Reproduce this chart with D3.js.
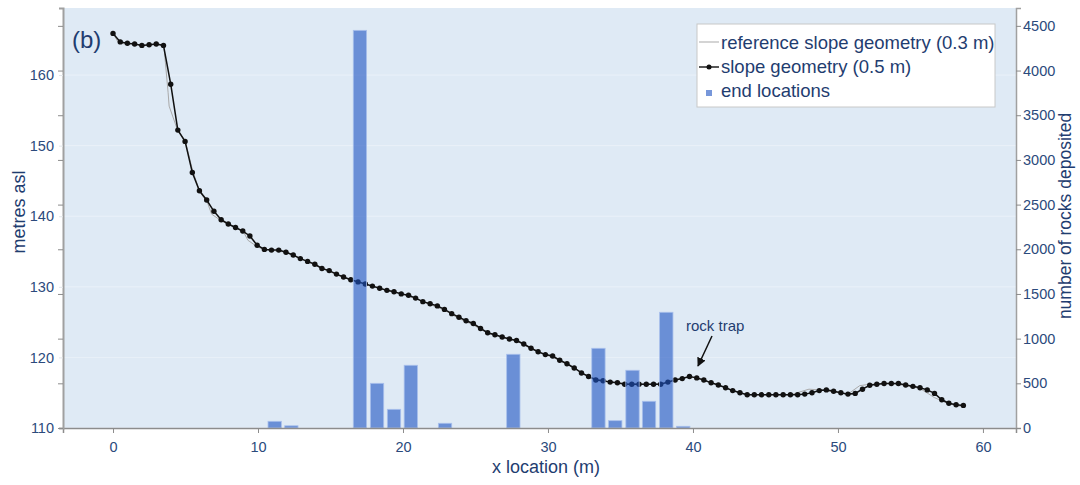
<!DOCTYPE html>
<html>
<head>
<meta charset="utf-8">
<script src="https://cdn.jsdelivr.net/npm/d3@7"></script>
<style>
    body { margin: 0; background: #fff; }
    text { font-family: "Liberation Sans", Arial, sans-serif; }
</style>
</head>
<body>
<div id="chart"></div>
<script>
// slope geometry (0.5 m), x location in m and elevation in metres asl
var slopeX = [0, 0.50, 0.99, 1.49, 1.99, 2.49, 2.98, 3.48, 3.98, 4.47, 4.97, 5.47, 5.96, 6.46, 6.96, 7.46, 7.95, 8.45, 8.95, 9.44,
    9.94, 10.44, 10.93, 11.43, 11.93, 12.43, 12.92, 13.42, 13.92, 14.41, 14.91, 15.41, 15.90, 16.40, 16.90, 17.40, 17.89, 18.39, 18.89, 19.38,
    19.88, 20.38, 20.87, 21.37, 21.87, 22.37, 22.86, 23.36, 23.86, 24.35, 24.85, 25.35, 25.84, 26.34, 26.84, 27.34, 27.83, 28.33, 28.83, 29.32,
    29.82, 30.32, 30.81, 31.31, 31.81, 32.31, 32.80, 33.30, 33.80, 34.29, 34.79, 35.29, 35.78, 36.28, 36.78, 37.28, 37.77, 38.27, 38.77, 39.26,
    39.76, 40.26, 40.75, 41.25, 41.75, 42.25, 42.74, 43.24, 43.74, 44.23, 44.73, 45.23, 45.72, 46.22, 46.72, 47.22, 47.71, 48.21, 48.71, 49.20,
    49.70, 50.20, 50.69, 51.19, 51.69, 52.19, 52.68, 53.18, 53.68, 54.17, 54.67, 55.17, 55.66, 56.16, 56.66, 57.16, 57.65, 58.15, 58.65];
var slopeY = [165.9, 164.7, 164.5, 164.4, 164.2, 164.3, 164.4, 164.2, 158.7, 152.2, 150.6, 146.2, 143.6, 142.3, 140.7, 139.5, 138.9, 138.4, 137.9, 137.2,
    135.9, 135.3, 135.2, 135.2, 134.9, 134.5, 134.0, 133.6, 133.2, 132.6, 132.3, 131.8, 131.4, 131.0, 130.7, 130.4, 130.1, 129.8, 129.5, 129.3,
    129.0, 128.8, 128.4, 127.9, 127.6, 127.3, 126.8, 126.2, 125.7, 125.2, 124.8, 124.1, 123.5, 123.2, 122.9, 122.6, 122.4, 121.9, 121.3, 120.8,
    120.4, 120.2, 119.6, 119.1, 118.5, 117.8, 117.3, 116.8, 116.7, 116.5, 116.4, 116.2, 116.2, 116.2, 116.2, 116.2, 116.2, 116.5, 116.8, 117.0,
    117.3, 117.1, 116.8, 116.4, 116.1, 115.7, 115.3, 115.0, 114.7, 114.7, 114.7, 114.7, 114.7, 114.7, 114.7, 114.7, 114.8, 115.0, 115.3, 115.4,
    115.2, 115.0, 114.8, 114.9, 115.5, 116.05, 116.2, 116.3, 116.3, 116.3, 116.1, 115.9, 115.7, 115.4, 114.9, 114.0, 113.5, 113.3, 113.2];

// reference slope geometry (0.3 m), vertices read where it leaves the 0.5 m line
var refX = [0, 0.4, 1.0, 1.5, 2.0, 2.5, 3.0, 3.5, 3.8, 3.87, 4.4, 5.0, 5.5, 6.0, 6.5, 6.8, 7.5, 8.0, 8.5, 9.0,
    9.3, 10.0, 10.5, 11.93, 13.92, 15.90, 17.89, 19.88, 20.87, 21.87, 22.86, 23.86, 24.85, 25.84, 26.84, 27.83, 28.83, 29.82, 30.81, 31.81,
    32.80, 33.80, 34.79, 36.78, 37.77, 38.77, 39.76, 40.75, 41.75, 42.74, 43.74, 46.72, 48.0, 48.71, 49.70, 50.69, 51.5, 52.19, 53.68, 54.67,
    55.66, 56.66, 57.65, 58.45];
var refY = [165.9, 164.5, 164.4, 164.4, 164.2, 164.2, 164.4, 164.3, 157.5, 155.6, 152.5, 150.5, 146.4, 143.4, 142.0, 140.3, 139.3, 138.8, 138.3, 137.8,
    136.6, 135.6, 135.3, 134.9, 133.1, 131.3, 130.1, 129.0, 128.3, 127.5, 126.7, 125.5, 124.6, 123.4, 122.9, 122.3, 121.3, 120.4, 119.6, 118.5,
    117.3, 116.7, 116.4, 116.2, 116.3, 116.8, 117.3, 116.8, 116.1, 115.3, 114.7, 114.7, 115.5, 115.4, 115.1, 114.8, 116.0, 116.2, 116.3, 116.0,
    115.6, 114.3, 113.4, 113.1];

// end locations: bin centre (m) and number of rocks deposited
var barX = [11.15, 12.3, 17.03, 18.21, 19.38, 20.54, 22.9, 27.61, 33.48, 34.64, 35.83, 36.97, 38.16, 39.33];
var barCount = [75, 25, 4450, 500, 209, 702, 53, 825, 892, 82, 646, 299, 1295, 19];

var xTicks = [0, 10, 20, 30, 40, 50, 60];
var leftTicks = [110, 120, 130, 140, 150, 160];
var rightTicks = [0, 500, 1000, 1500, 2000, 2500, 3000, 3500, 4000, 4500];

const w = 1080;
const h = 485;
const plotL = 63, plotR = 1016, plotT = 8, plotB = 428;
const navy = "#1f3d70";
const tickNavy = "#2b4a7c";
const barFill = "rgb(29,82,193)";

const xScale = d3.scaleLinear()
    .domain([-3.45, 62.28])
    .range([plotL, plotR]);

const yLeft = d3.scaleLinear()
    .domain([110, 169.5])
    .range([plotB, plotT]);

const yRight = d3.scaleLinear()
    .domain([0, 4700])
    .range([plotB, plotT]);

const svg = d3.select("#chart")
    .append("svg")
    .attr("width", w)
    .attr("height", h);

// plot background
svg.append("rect")
    .attr("x", plotL)
    .attr("y", plotT)
    .attr("width", plotR - plotL)
    .attr("height", plotB - plotT)
    .attr("fill", "#dfeaf5");

// faint grid at the elevation ticks
svg.append("g")
    .selectAll("line")
    .data(leftTicks)
    .enter()
    .append("line")
    .attr("x1", plotL)
    .attr("x2", plotR)
    .attr("y1", (d) => yLeft(d))
    .attr("y2", (d) => yLeft(d))
    .attr("stroke", "#eaf1f9")
    .attr("stroke-width", 1);

// reference line under everything else
const line = d3.line()
    .x((d) => xScale(d[0]))
    .y((d) => yLeft(d[1]));

svg.append("path")
    .datum(refX.map((x, i) => [x, refY[i]]))
    .attr("d", line)
    .attr("fill", "none")
    .attr("stroke", "#a9a9a9")
    .attr("stroke-width", 1);

var slope = slopeX.map((x, i) => [x, slopeY[i]]);

svg.append("path")
    .datum(slope)
    .attr("d", line)
    .attr("fill", "none")
    .attr("stroke", "#111")
    .attr("stroke-width", 1.5);

svg.append("g")
    .selectAll("circle")
    .data(slope)
    .enter()
    .append("circle")
    .attr("cx", (d) => xScale(d[0]))
    .attr("cy", (d) => yLeft(d[1]))
    .attr("r", 2.7)
    .attr("fill", "#111");

// bars sit on top, half see-through
const barW = xScale(0.92) - xScale(0);

svg.append("g")
    .selectAll("rect")
    .data(barX)
    .enter()
    .append("rect")
    .attr("x", (d) => xScale(d) - barW / 2)
    .attr("y", (d, i) => yRight(barCount[i]))
    .attr("width", barW)
    .attr("height", (d, i) => plotB - yRight(barCount[i]))
    .attr("fill", barFill)
    .attr("fill-opacity", 0.6)
    .attr("stroke", "#a9c0ec")
    .attr("stroke-width", 0.8);

// axes
const xAxis = d3.axisBottom(xScale).tickValues(xTicks).tickSize(5).tickPadding(9);
const yAxisL = d3.axisLeft(yLeft).tickValues(leftTicks).tickSize(4).tickPadding(5);
const yAxisLMarks = d3.axisLeft(yRight).tickValues(rightTicks).tickSize(5).tickFormat("");
const yAxisR = d3.axisRight(yRight).tickValues(rightTicks).tickSize(5).tickPadding(2).tickFormat(d3.format("d"));

var gx = svg.append("g")
    .attr("transform", "translate(0," + plotB + ")")
    .call(xAxis);

var gl = svg.append("g")
    .attr("transform", "translate(" + plotL + ",0)")
    .call(yAxisL);

var glm = svg.append("g")
    .attr("transform", "translate(" + plotL + ",0)")
    .call(yAxisLMarks);

var gr = svg.append("g")
    .attr("transform", "translate(" + plotR + ",0)")
    .call(yAxisR);

[gx, gl, gr].forEach((g) => {
    g.selectAll("text")
        .attr("fill", tickNavy)
        .style("font-size", "14.5px")
        .style("font-family", "'Liberation Sans', Arial, sans-serif");
});
gx.select(".domain").attr("stroke", "#8c8c8c").attr("stroke-width", 1.5);
gx.selectAll(".tick line").attr("stroke", "#8c8c8c");
gl.select(".domain").attr("stroke", "#a0a0a0").attr("stroke-width", 2);
gl.selectAll(".tick line").attr("stroke", "#e2e6ea");
glm.select(".domain").remove();
glm.selectAll(".tick line").attr("stroke", "#8c8c8c");
gr.select(".domain").attr("stroke", "#a0a0a0").attr("stroke-width", 1.5);
gr.selectAll(".tick line").attr("stroke", "#8c8c8c");

// axis titles
svg.append("text")
    .attr("transform", "translate(25,212) rotate(-90)")
    .attr("text-anchor", "middle")
    .attr("fill", navy)
    .style("font-size", "18px")
    .text("metres asl");

svg.append("text")
    .attr("transform", "translate(1071,216) rotate(-90)")
    .attr("text-anchor", "middle")
    .attr("fill", navy)
    .style("font-size", "17.5px")
    .text("number of rocks deposited");

svg.append("text")
    .attr("x", 546)
    .attr("y", 473)
    .attr("text-anchor", "middle")
    .attr("fill", navy)
    .style("font-size", "18px")
    .text("x location (m)");

// panel letter
svg.append("text")
    .attr("x", 72)
    .attr("y", 48)
    .attr("fill", navy)
    .style("font-size", "24px")
    .text("(b)");

// rock trap annotation
svg.append("defs")
    .append("marker")
    .attr("id", "arrow")
    .attr("viewBox", "0 0 10 10")
    .attr("refX", 9)
    .attr("refY", 5)
    .attr("markerWidth", 6)
    .attr("markerHeight", 6)
    .attr("orient", "auto")
    .append("path")
    .attr("d", "M0,0 L10,5 L0,10 z")
    .attr("fill", "#111");

svg.append("text")
    .attr("x", 686)
    .attr("y", 331)
    .attr("fill", navy)
    .style("font-size", "15px")
    .text("rock trap");

svg.append("line")
    .attr("x1", 712)
    .attr("y1", 336)
    .attr("x2", 698)
    .attr("y2", 366)
    .attr("stroke", "#111")
    .attr("stroke-width", 1.5)
    .attr("marker-end", "url(#arrow)");

// legend
const legend = svg.append("g");

legend.append("rect")
    .attr("x", 697)
    .attr("y", 24)
    .attr("width", 298)
    .attr("height", 83)
    .attr("fill", "#fff")
    .attr("stroke", "#c8c8c8")
    .attr("stroke-width", 1);

legend.append("line")
    .attr("x1", 699).attr("x2", 719)
    .attr("y1", 42).attr("y2", 42)
    .attr("stroke", "#a9a9a9")
    .attr("stroke-width", 1);

legend.append("line")
    .attr("x1", 699).attr("x2", 719)
    .attr("y1", 67).attr("y2", 67)
    .attr("stroke", "#111")
    .attr("stroke-width", 1.4);

legend.append("circle")
    .attr("cx", 709)
    .attr("cy", 67)
    .attr("r", 2.5)
    .attr("fill", "#111");

legend.append("rect")
    .attr("x", 706)
    .attr("y", 90)
    .attr("width", 6)
    .attr("height", 6)
    .attr("fill", barFill)
    .attr("fill-opacity", 0.6);

var legendLabels = ["reference slope geometry (0.3 m)", "slope geometry (0.5 m)", "end locations"];

legend.selectAll("text")
    .data(legendLabels)
    .enter()
    .append("text")
    .attr("x", 721)
    .attr("y", (d, i) => 49 + i * 24)
    .attr("fill", navy)
    .style("font-size", "18.5px")
    .text((d) => d);
</script>
</body>
</html>
